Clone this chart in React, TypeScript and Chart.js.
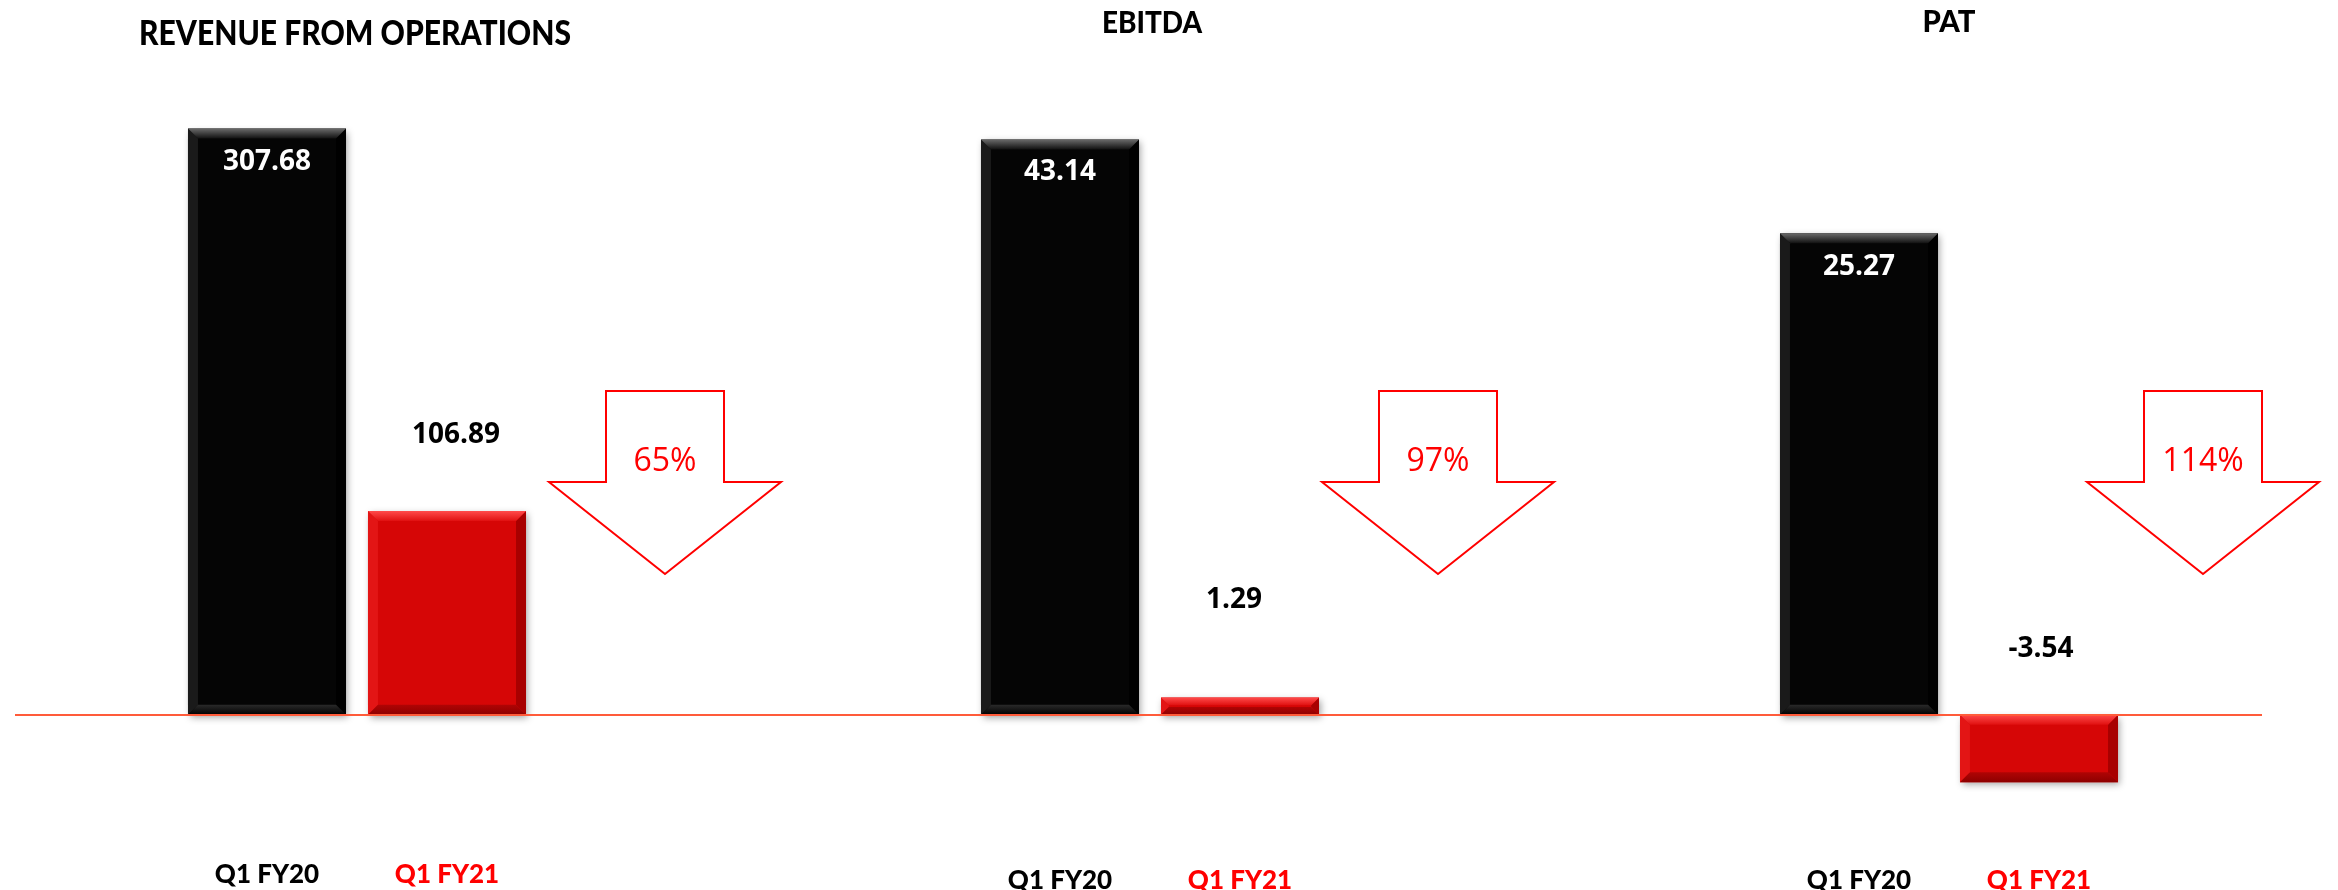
import React, { useEffect, useRef } from 'react';
import { Chart, registerables } from 'chart.js';

Chart.register(...registerables);

// ---------- data ----------
const categories = ['Q1 FY20', 'Q1 FY21'];
const revenueValues = [307.68, 106.89];
const ebitdaValues = [43.14, 1.29];
const patValues = [25.27, -3.54];
const panelTitles = ['REVENUE FROM OPERATIONS', 'EBITDA', 'PAT'];
const declineLabels = ['65%', '97%', '114%'];
const axisMax = [350, 50, 35];
const axisMin = [-50, -50 / 7, -5];

// ---------- styles / layout ----------
const PAGE_W = 2338;
const PAGE_H = 890;
const barColors = ['#050505', '#D60606'];
const tickColors = ['#000000', '#FF0000'];
const valueLabelColors = ['#FFFFFF', '#000000'];
const bevelTones = [
  { top: ['#6a6a6a', '#101010'], bottom: ['#000000', '#2a2a2a'], left: '#1a1a1a', right: '#000000' },
  { top: ['#ff4a4a', '#e01010'], bottom: ['#8e0000', '#b00404'], left: '#e31515', right: '#a80000' },
];
const BASE_LINE = { x0: 15, x1: 2262, color: '#FF5B3A', width: 2 };
const ARROW = { halfW: 116, shaftHalf: 59, top: 391, shoulder: 482, tip: 574, textY: 462, color: '#FF0000' };
const HEAD_FONT = '"Lato", "Liberation Sans", sans-serif';

const panels = [
  {
    values: revenueValues, left: 0, width: 800, areaLeft: 177, areaRight: 537, tickPad: 49,
    title: { x: 355, y: 45, size: 34, maxW: 432 }, arrowX: 665,
    labelOffsets: [[0, 33], [9, -76]],
  },
  {
    values: ebitdaValues, left: 800, width: 800, areaLeft: 970, areaRight: 1330, tickPad: 55,
    title: { x: 1152, y: 33, size: 31, maxW: 100 }, arrowX: 1438,
    labelOffsets: [[0, 33], [-6, -98]],
  },
  {
    values: patValues, left: 1600, width: 738, areaLeft: 1769, areaRight: 2129, tickPad: 55,
    title: { x: 1949, y: 32, size: 31, maxW: 53 }, arrowX: 2203,
    labelOffsets: [[0, 34], [2, -66]],
  },
];

function poly(ctx: CanvasRenderingContext2D, pts: number[][], fill: any) {
  ctx.beginPath();
  ctx.moveTo(pts[0][0], pts[0][1]);
  for (let i = 1; i < pts.length; i++) ctx.lineTo(pts[i][0], pts[i][1]);
  ctx.closePath();
  ctx.fillStyle = fill;
  ctx.fill();
}

function makeDecorPlugin(pi: number) {
  const cfg = panels[pi];
  return {
    id: 'decor' + pi,
    beforeDatasetsDraw(chart: any) {
      const ctx = chart.ctx;
      ctx.save();
      ctx.shadowColor = 'rgba(0,0,0,0.35)';
      ctx.shadowBlur = 7;
      ctx.shadowOffsetX = 2;
      ctx.shadowOffsetY = 3;
    },
    afterDatasetsDraw(chart: any) {
      const ctx = chart.ctx;
      ctx.restore();
      const meta = chart.getDatasetMeta(0);
      const yScale = chart.scales.y;
      const zeroY = yScale.getPixelForValue(0);
      // bevels
      meta.data.forEach((el: any, i: number) => {
        const p = el.getProps(['x', 'y', 'base', 'width'], true);
        const l = p.x - p.width / 2;
        const r = p.x + p.width / 2;
        const t = Math.min(p.y, p.base);
        const b = Math.max(p.y, p.base);
        const d = Math.min(10, (b - t) / 2.2);
        const tone = bevelTones[i];
        const gt = ctx.createLinearGradient(0, t, 0, t + d);
        gt.addColorStop(0, tone.top[0]);
        gt.addColorStop(1, tone.top[1]);
        const gb = ctx.createLinearGradient(0, b - d, 0, b);
        gb.addColorStop(0, tone.bottom[1]);
        gb.addColorStop(1, tone.bottom[0]);
        poly(ctx, [[l, t], [l + d, t + d], [l + d, b - d], [l, b]], tone.left);
        poly(ctx, [[r, t], [r - d, t + d], [r - d, b - d], [r, b]], tone.right);
        poly(ctx, [[l, t], [r, t], [r - d, t + d], [l + d, t + d]], gt);
        poly(ctx, [[l, b], [r, b], [r - d, b - d], [l + d, b - d]], gb);
      });
      // baseline
      ctx.save();
      ctx.strokeStyle = BASE_LINE.color;
      ctx.lineWidth = BASE_LINE.width;
      ctx.beginPath();
      const x0 = Math.max(BASE_LINE.x0 - cfg.left, 0);
      const x1 = Math.min(BASE_LINE.x1 - cfg.left, cfg.width);
      ctx.moveTo(x0, Math.round(zeroY));
      ctx.lineTo(x1, Math.round(zeroY));
      ctx.stroke();
      ctx.restore();
      // value labels
      ctx.save();
      ctx.font = 'bold 28px "Open Sans"';
      ctx.textAlign = 'center';
      ctx.textBaseline = 'middle';
      meta.data.forEach((el: any, i: number) => {
        const p = el.getProps(['x', 'y', 'base'], true);
        const anchor = Math.min(p.y, p.base);
        const [dx, dy] = cfg.labelOffsets[i];
        ctx.fillStyle = valueLabelColors[i];
        ctx.fillText(cfg.values[i].toFixed(2), p.x + dx, anchor + dy);
      });
      ctx.restore();
    },
    afterDraw(chart: any) {
      const ctx = chart.ctx;
      const L = cfg.left;
      // title
      ctx.save();
      ctx.font = `900 ${cfg.title.size}px ${HEAD_FONT}`;
      ctx.fillStyle = '#000';
      ctx.textAlign = 'center';
      ctx.textBaseline = 'alphabetic';
      ctx.fillText(panelTitles[pi], cfg.title.x - L, cfg.title.y, cfg.title.maxW);
      ctx.restore();
      // arrow
      const cx = cfg.arrowX - L;
      ctx.save();
      ctx.beginPath();
      ctx.moveTo(cx - ARROW.shaftHalf, ARROW.top);
      ctx.lineTo(cx + ARROW.shaftHalf, ARROW.top);
      ctx.lineTo(cx + ARROW.shaftHalf, ARROW.shoulder);
      ctx.lineTo(cx + ARROW.halfW, ARROW.shoulder);
      ctx.lineTo(cx, ARROW.tip);
      ctx.lineTo(cx - ARROW.halfW, ARROW.shoulder);
      ctx.lineTo(cx - ARROW.shaftHalf, ARROW.shoulder);
      ctx.closePath();
      ctx.fillStyle = '#FFFFFF';
      ctx.fill();
      ctx.strokeStyle = ARROW.color;
      ctx.lineWidth = 2;
      ctx.stroke();
      ctx.font = '32px "Open Sans"';
      ctx.fillStyle = ARROW.color;
      ctx.textAlign = 'center';
      ctx.textBaseline = 'middle';
      ctx.fillText(declineLabels[pi], cx, ARROW.textY);
      ctx.restore();
    },
  };
}

function Panel({ pi }: { pi: number }) {
  const ref = useRef<HTMLCanvasElement | null>(null);
  const cfg = panels[pi];
  useEffect(() => {
    if (!ref.current) return;
    const chart = new Chart(ref.current, {
      type: 'bar',
      data: {
        labels: categories,
        datasets: [
          {
            data: cfg.values,
            backgroundColor: barColors,
            borderWidth: 0,
            barPercentage: 0.878,
            categoryPercentage: 1,
          },
        ],
      },
      options: {
        responsive: false,
        maintainAspectRatio: false,
        animation: false,
        layout: {
          padding: {
            left: cfg.areaLeft - cfg.left,
            right: cfg.left + cfg.width - cfg.areaRight,
            top: 48,
            bottom: 0,
          },
        },
        scales: {
          x: {
            grid: { display: false, drawTicks: false },
            border: { display: false },
            ticks: {
              padding: cfg.tickPad,
              font: { family: HEAD_FONT, weight: '900', size: 26 },
              color: (c: any) => tickColors[c.index] || '#000',
            },
            afterFit: (s: any) => {
              s.height = 80;
            },
          },
          y: {
            display: false,
            min: axisMin[pi],
            max: axisMax[pi],
          },
        },
        plugins: {
          legend: { display: false },
          tooltip: { enabled: false },
          title: { display: false },
        },
      } as any,
      plugins: [makeDecorPlugin(pi)],
    });
    return () => chart.destroy();
  }, []);
  return (
    <canvas
      ref={ref}
      width={cfg.width}
      height={PAGE_H}
      style={{ position: 'absolute', left: cfg.left, top: 0, width: cfg.width, height: PAGE_H }}
    />
  );
}

export default function App() {
  return (
    <div style={{ position: 'absolute', left: 0, top: 0, width: PAGE_W, height: PAGE_H, background: '#FFFFFF' }}>
      {panels.map((_, i) => (
        <Panel key={i} pi={i} />
      ))}
    </div>
  );
}
